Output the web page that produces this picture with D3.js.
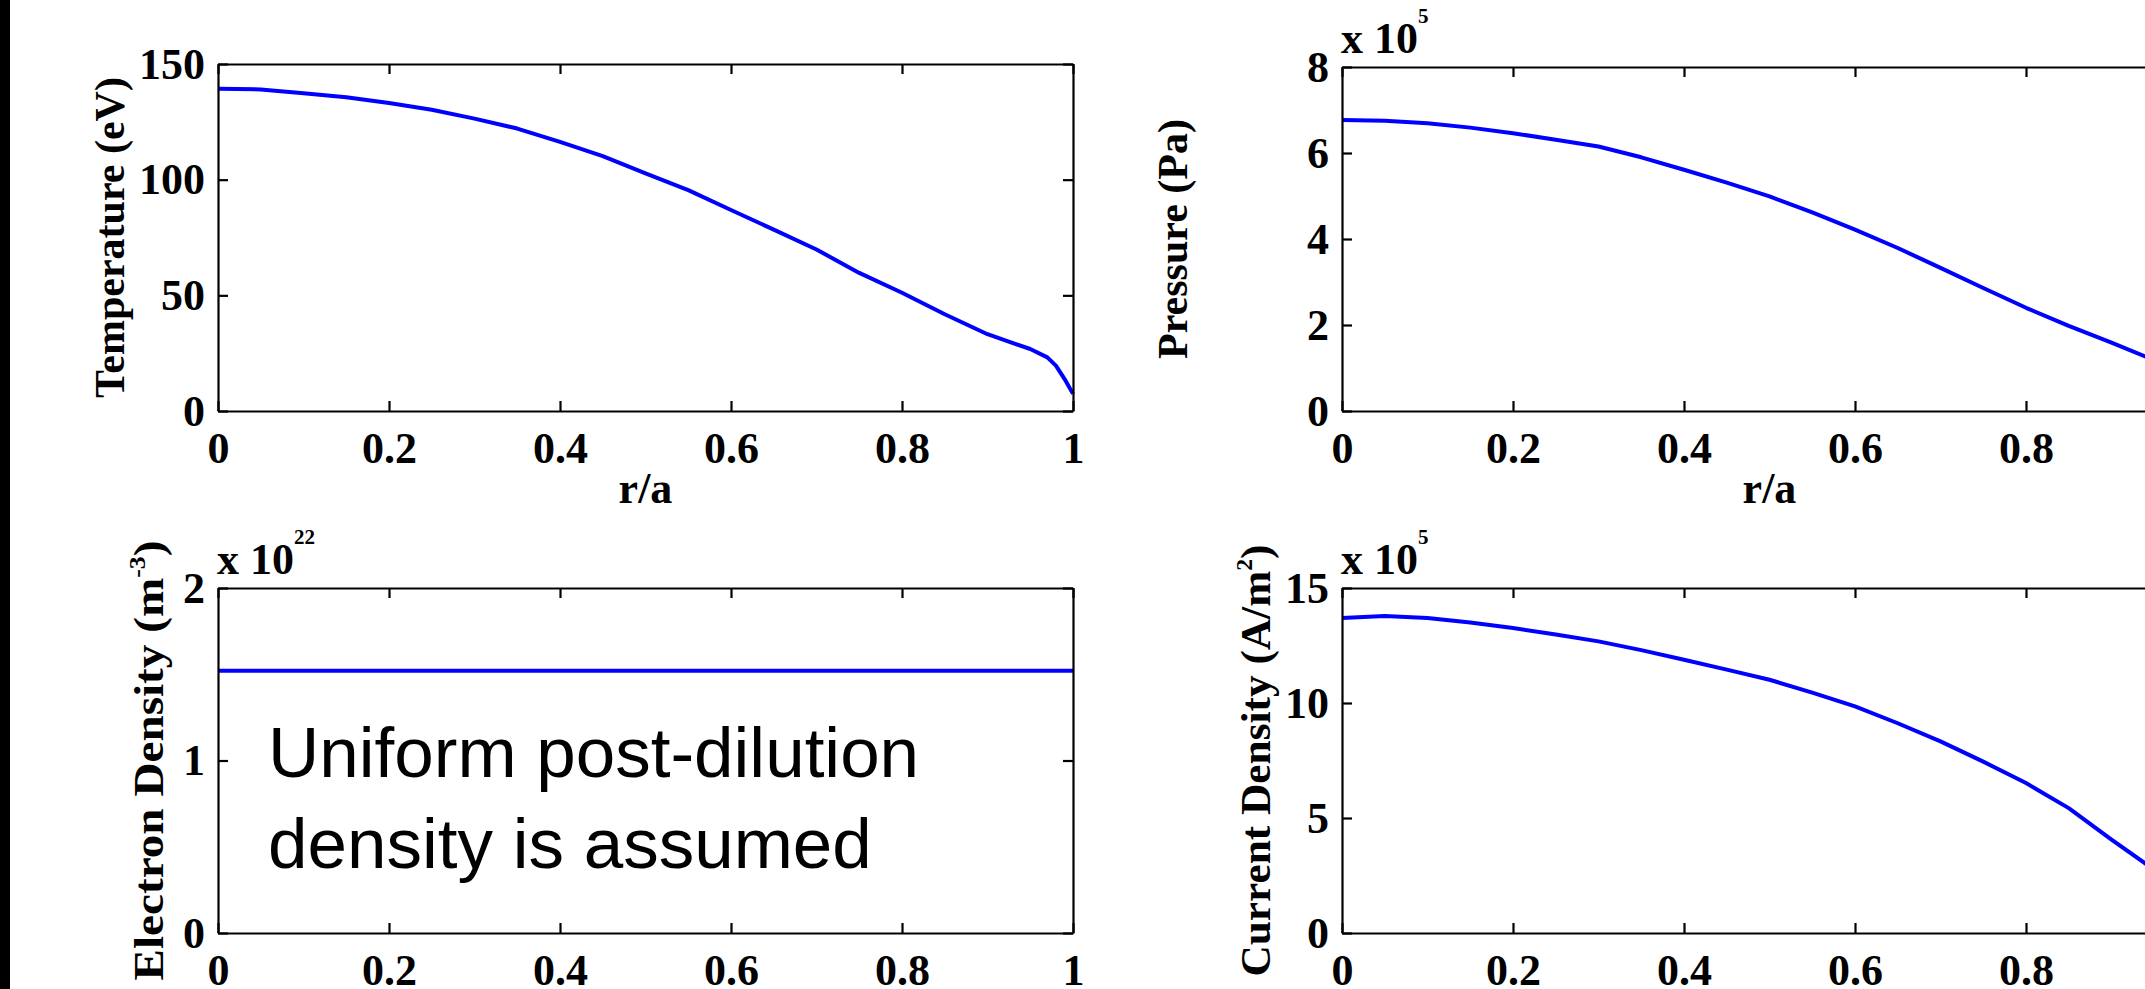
<!DOCTYPE html>
<html><head><meta charset="utf-8">
<script src="https://cdn.jsdelivr.net/npm/d3@7"></script>
<style>html,body{margin:0;padding:0;background:#fff;overflow:hidden}</style>
</head><body><svg id="c" width="2145" height="989"></svg>
<script>
// ---------- data ----------
const xTicks = [0, 0.2, 0.4, 0.6, 0.8, 1];
const xTickLabels = ["0", "0.2", "0.4", "0.6", "0.8", "1"];

const rTemp = [0, 0.05, 0.1, 0.15, 0.2, 0.25, 0.3, 0.35, 0.4, 0.45, 0.5, 0.55, 0.6, 0.65, 0.7, 0.75, 0.8, 0.85, 0.9, 0.95, 0.97, 0.98, 0.99, 1.0];
const tempValues = [139.3, 139.0, 137.4, 135.6, 133.1, 130.2, 126.4, 122.1, 116.3, 110.2, 102.7, 95.5, 86.9, 78.4, 69.8, 59.7, 51.1, 41.8, 33.2, 26.8, 23.2, 19.6, 13.9, 7.4];
const tempTicks = [0, 50, 100, 150];

const rPress = [0, 0.05, 0.1, 0.15, 0.2, 0.25, 0.3, 0.35, 0.4, 0.45, 0.5, 0.55, 0.6, 0.65, 0.7, 0.75, 0.8, 0.85, 0.9, 0.95, 1.0];
const pressValues = [6.77, 6.75, 6.69, 6.59, 6.46, 6.31, 6.15, 5.90, 5.61, 5.31, 4.99, 4.62, 4.22, 3.79, 3.33, 2.86, 2.40, 1.98, 1.59, 1.18, 0.90];
const pressTicks = [0, 2, 4, 6, 8];

const rDens = [0, 1];
const densValues = [1.52, 1.52];
const densTicks = [0, 1, 2];

const rCurr = [0, 0.05, 0.1, 0.15, 0.2, 0.25, 0.3, 0.35, 0.4, 0.45, 0.5, 0.55, 0.6, 0.65, 0.7, 0.75, 0.8, 0.85, 0.9, 0.95, 1.0];
const currValues = [13.70, 13.78, 13.70, 13.50, 13.26, 12.98, 12.68, 12.30, 11.88, 11.45, 11.01, 10.45, 9.85, 9.12, 8.33, 7.45, 6.52, 5.43, 4.06, 2.75, 1.20];
const currTicks = [0, 5, 10, 15];

// ---------- drawing ----------
const svg = d3.select("#c");
svg.append("rect").attr("x", 0).attr("y", 0).attr("width", 10).attr("height", 989).attr("fill", "#000");

const SERIF = "'Liberation Serif','Times New Roman',serif";
const TICK_FS = 44;

function panel(cfg) {
  const x = d3.scaleLinear().domain([0, 1]).range([cfg.left, cfg.left + cfg.w]);
  const y = d3.scaleLinear().domain([cfg.yTicks[0], cfg.yTicks[cfg.yTicks.length - 1]]).range([cfg.top + cfg.h, cfg.top]);
  const g = svg.append("g");

  // curve
  const pts = cfg.r.map((d, i) => [d, cfg.v[i]]);
  g.append("path").datum(pts)
    .attr("fill", "none").attr("stroke", "#0000ff").attr("stroke-width", 4)
    .attr("stroke-linejoin", "round")
    .attr("d", d3.line().x(d => x(d[0])).y(d => y(d[1])));

  const styleAxis = sel => {
    sel.attr("font-size", null).attr("font-family", null);
    sel.selectAll("path, line").attr("stroke", "#000").attr("stroke-width", 2.2);
    sel.selectAll("text").attr("fill", "#000").style("font-family", SERIF)
      .style("font-weight", "bold").style("font-size", TICK_FS + "px");
  };

  g.append("g").attr("transform", `translate(0,${cfg.top + cfg.h})`)
    .call(d3.axisBottom(x).tickValues(xTicks).tickFormat((d, i) => xTickLabels[i])
      .tickSizeInner(-10).tickSizeOuter(0).tickPadding(21))
    .call(styleAxis);
  g.append("g").attr("transform", `translate(0,${cfg.top})`)
    .call(d3.axisTop(x).tickValues(xTicks).tickFormat("").tickSizeInner(-10).tickSizeOuter(0))
    .call(styleAxis);
  g.append("g").attr("transform", `translate(${cfg.left},0)`)
    .call(d3.axisLeft(y).tickValues(cfg.yTicks).tickFormat(d3.format("d"))
      .tickSizeInner(-10).tickSizeOuter(0).tickPadding(13))
    .call(styleAxis);
  g.append("g").attr("transform", `translate(${cfg.left + cfg.w},0)`)
    .call(d3.axisRight(y).tickValues(cfg.yTicks).tickFormat("").tickSizeInner(-10).tickSizeOuter(0))
    .call(styleAxis);

  // y label
  const cy = cfg.top + cfg.h / 2;
  const yl = g.append("text")
    .attr("transform", `translate(${cfg.yLabelX},${cy}) rotate(-90)`)
    .attr("text-anchor", "middle")
    .style("font-family", SERIF).style("font-weight", "bold").style("font-size", "42px");
  yl.append("tspan").text(cfg.yLabel[0]);
  if (cfg.yLabel.length > 1) {
    yl.append("tspan").attr("dy", -18).style("font-size", "23px").text(cfg.yLabel[1]);
    yl.append("tspan").attr("dy", 18).text(cfg.yLabel[2]);
  }
  if (cfg.yLabelLen) yl.attr("textLength", cfg.yLabelLen).attr("lengthAdjust", "spacingAndGlyphs");

  // x label
  if (cfg.xLabel) {
    g.append("text").attr("x", cfg.left + cfg.w / 2).attr("y", cfg.top + cfg.h + 92)
      .attr("text-anchor", "middle")
      .style("font-family", SERIF).style("font-weight", "bold").style("font-size", "44px")
      .text(cfg.xLabel);
  }

  // exponent
  if (cfg.exp) {
    const t = g.append("text").attr("x", cfg.left - 1).attr("y", cfg.top - 14)
      .style("font-family", SERIF).style("font-weight", "bold").style("font-size", "44px");
    t.append("tspan").text("x 10");
    t.append("tspan").attr("dy", -30).style("font-size", "21px").text(cfg.exp);
  }
  return { x, y, g };
}

panel({ left: 218, top: 64, w: 855, h: 347, r: rTemp, v: tempValues, yTicks: tempTicks,
  yLabel: ["Temperature (eV)"], yLabelX: 124, xLabel: "r/a" });
panel({ left: 1342, top: 67, w: 855, h: 344, r: rPress, v: pressValues, yTicks: pressTicks,
  yLabel: ["Pressure (Pa)"], yLabelX: 1187, xLabel: "r/a", exp: "5" });
panel({ left: 218, top: 588, w: 855, h: 345, r: rDens, v: densValues, yTicks: densTicks,
  yLabel: ["Electron Density (m", "-3", ")"], yLabelX: 163, exp: "22", yLabelLen: 440 });
panel({ left: 1342, top: 588, w: 855, h: 345, r: rCurr, v: currValues, yTicks: currTicks,
  yLabel: ["Current Density (A/m", "2", ")"], yLabelX: 1270, exp: "5", yLabelLen: 432 });

// annotation
const ann = svg.append("text").style("font-family", "'Liberation Sans',Arial,sans-serif")
  .style("font-size", "71px").attr("fill", "#000");
ann.append("tspan").attr("x", 268).attr("y", 777).text("Uniform post-dilution");
ann.append("tspan").attr("x", 268).attr("y", 868).text("density is assumed");
</script>
</body></html>
